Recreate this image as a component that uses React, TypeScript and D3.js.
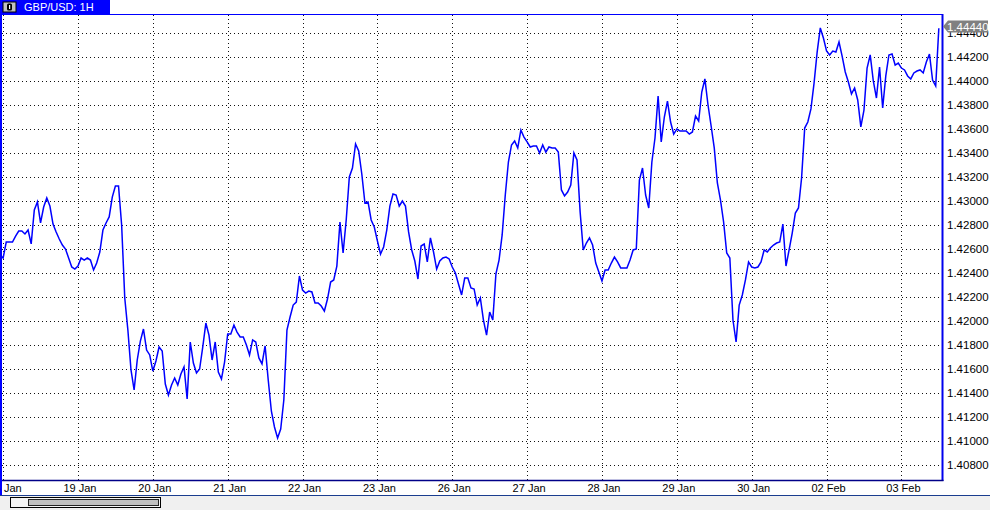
import React from "react";
import * as d3 from "d3";

// ---- data (hourly GBP/USD closes) ----
const dayLabels = ["16 Jan", "19 Jan", "20 Jan", "21 Jan", "22 Jan", "23 Jan", "26 Jan", "27 Jan", "28 Jan", "29 Jan", "30 Jan", "02 Feb", "03 Feb"];
const priorClose = [1.4255];
const jan16 = [1.42525, 1.42658, 1.42658, 1.42658, 1.42708, 1.4275, 1.4275, 1.42725, 1.42758, 1.42642, 1.42925, 1.42992, 1.42817, 1.4295, 1.43025, 1.42958, 1.42808, 1.42742, 1.42683, 1.42633, 1.426, 1.42525, 1.4245, 1.42433];
const jan19 = [1.42458, 1.42525, 1.42508, 1.42525, 1.42508, 1.42425, 1.42483, 1.42575, 1.42758, 1.42817, 1.42867, 1.43033, 1.43125, 1.43125, 1.428, 1.42192, 1.41925, 1.41592, 1.41425, 1.41675, 1.41833, 1.41933, 1.41758, 1.41717];
const jan20 = [1.41583, 1.41667, 1.41783, 1.4175, 1.41475, 1.41383, 1.41467, 1.41525, 1.41467, 1.41558, 1.41617, 1.4135, 1.41825, 1.4165, 1.41567, 1.416, 1.41783, 1.41983, 1.41883, 1.41675, 1.41825, 1.41575, 1.41517, 1.41658];
const jan21 = [1.41892, 1.41892, 1.41967, 1.41908, 1.41867, 1.41867, 1.418, 1.41717, 1.41842, 1.41825, 1.41692, 1.41642, 1.41792, 1.41508, 1.4125, 1.41117, 1.41025, 1.411, 1.41342, 1.41925, 1.42033, 1.42133, 1.42158, 1.42375];
const jan22 = [1.42258, 1.42233, 1.4225, 1.42242, 1.4215, 1.4215, 1.42125, 1.42083, 1.42183, 1.42325, 1.42342, 1.42458, 1.42825, 1.42567, 1.42842, 1.432, 1.43275, 1.43475, 1.43417, 1.43225, 1.42983, 1.42992, 1.42842, 1.42783];
const jan23 = [1.42667, 1.42558, 1.42617, 1.42758, 1.42958, 1.43058, 1.4305, 1.42958, 1.43, 1.42958, 1.42742, 1.42592, 1.425, 1.4235, 1.42625, 1.42642, 1.42492, 1.42692, 1.42575, 1.42433, 1.425, 1.42525, 1.42533, 1.42517];
const jan26 = [1.4245, 1.424, 1.42308, 1.42217, 1.42358, 1.42358, 1.42275, 1.42267, 1.42133, 1.42192, 1.42008, 1.41883, 1.42075, 1.42008, 1.42392, 1.42508, 1.42717, 1.4305, 1.43325, 1.43467, 1.435, 1.43442, 1.43592, 1.43533];
const jan27 = [1.43492, 1.4345, 1.43458, 1.43458, 1.434, 1.43467, 1.43408, 1.4345, 1.43442, 1.43442, 1.43408, 1.43092, 1.43042, 1.43075, 1.43133, 1.434, 1.43342, 1.42908, 1.42592, 1.4265, 1.42692, 1.42633, 1.42483, 1.42408];
const jan28 = [1.42333, 1.42425, 1.42425, 1.42483, 1.42533, 1.42492, 1.42442, 1.42442, 1.42442, 1.42508, 1.42592, 1.426, 1.43175, 1.43275, 1.4305, 1.42942, 1.43325, 1.43525, 1.43875, 1.43492, 1.437, 1.43833, 1.43658, 1.43558];
const jan29 = [1.436, 1.43583, 1.43583, 1.43583, 1.43558, 1.43575, 1.43708, 1.43667, 1.43908, 1.44017, 1.438, 1.43625, 1.43442, 1.4315, 1.43008, 1.42825, 1.42567, 1.42525, 1.42008, 1.41825, 1.42133, 1.42217, 1.42342, 1.42492];
const jan30 = [1.4245, 1.42442, 1.4245, 1.42492, 1.42592, 1.42575, 1.42608, 1.42633, 1.4265, 1.42658, 1.42808, 1.42458, 1.42592, 1.42733, 1.429, 1.42942, 1.43192, 1.43608, 1.43658, 1.43767, 1.43983, 1.44242, 1.44442, 1.44358];
const feb02 = [1.4425, 1.44217, 1.4425, 1.44242, 1.44325, 1.44208, 1.44075, 1.43992, 1.43892, 1.43942, 1.43842, 1.43617, 1.43758, 1.44108, 1.44217, 1.44, 1.43858, 1.44117, 1.43775, 1.44042, 1.44217, 1.44225, 1.44133, 1.4415];
const feb03 = [1.44108, 1.44092, 1.44042, 1.44017, 1.44067, 1.44083, 1.44092, 1.44067, 1.44158, 1.44225, 1.44008, 1.43958, 1.4444];
const priceTicks = [1.408, 1.41, 1.412, 1.414, 1.416, 1.418, 1.42, 1.422, 1.424, 1.426, 1.428, 1.43, 1.432, 1.434, 1.436, 1.438, 1.44, 1.442, 1.444];
const title = "GBP/USD: 1H";
const hoursPerDay = 24;

const series = [...priorClose, ...jan16, ...jan19, ...jan20, ...jan21, ...jan22, ...jan23, ...jan26, ...jan27, ...jan28, ...jan29, ...jan30, ...feb02, ...feb03];
const lastPrice = series[series.length - 1];

const W = 990, H = 510;
const plot = { left: 0, right: 942, top: 14, bottom: 480 };
const FONT = "'Liberation Sans', Arial, sans-serif";

export default function App() {
  const pxPerBar = 3.119;
  const x = d3.scaleLinear().domain([0, series.length - 1]).range([0, (series.length - 1) * pxPerBar]);
  const y = d3.scaleLinear().domain([1.408, 1.442]).range([465, 57]);
  const line = d3.line<number>().x((_, i) => x(i)).y((d) => y(d));
  const dayIdx = dayLabels.map((_, k) => 1 + k * hoursPerDay);
  const fmt = d3.format(".5f");
  const yc = y(lastPrice) - 1.7;

  return (
    <svg width={W} height={H} style={{ position: "fixed", left: 0, top: 0, background: "#fff" }} fontFamily={FONT}>
      <defs>
        <clipPath id="plotclip">
          <rect x={2} y={plot.top + 1} width={plot.right - 2} height={plot.bottom - plot.top - 1} />
        </clipPath>
      </defs>
      <rect x={0} y={0} width={W} height={H} fill="#fff" />

      {/* grid */}
      <g clipPath="url(#plotclip)">
        {priceTicks.map((t) => (
          <line key={"h" + t} x1={2} x2={plot.right} y1={Math.round(y(t)) + 0.5} y2={Math.round(y(t)) + 0.5} stroke="#111" strokeWidth={1} strokeDasharray="1 3" />
        ))}
        {dayIdx.map((d) => (
          <line key={"v" + d} x1={Math.round(x(d)) + 0.5} x2={Math.round(x(d)) + 0.5} y1={plot.top + 1} y2={plot.bottom} stroke="#111" strokeWidth={1} strokeDasharray="1 3" />
        ))}
        <path d={line(series) || ""} fill="none" stroke="#0000ff" strokeWidth={1.5} strokeLinejoin="miter" />
      </g>

      {/* frame */}
      <line x1={0} x2={plot.right + 1} y1={plot.top + 0.5} y2={plot.top + 0.5} stroke="#0000ff" strokeWidth={1} />
      <line x1={plot.right + 0.5} x2={plot.right + 0.5} y1={plot.top} y2={plot.bottom + 1} stroke="#0000ee" strokeWidth={2} />
      <line x1={0} x2={plot.right + 1.5} y1={plot.bottom + 0.5} y2={plot.bottom + 0.5} stroke="#000088" strokeWidth={1.5} />
      <rect x={0} y={0} width={2} height={496} fill="#0000ff" />

      {/* header */}
      <rect x={0} y={0} width={110} height={14} fill="#0000ff" />
      <rect x={3} y={2} width={13} height={10} fill="#c0c0c0" stroke="#000" strokeWidth={1} />
      <rect x={7} y={3.5} width={5} height={7} rx={1.5} fill="#000" />
      <rect x={9} y={5} width={1.2} height={4} fill="#fff" />
      <text x={24} y={11} fill="#fff" fontSize={11}>{title}</text>

      {/* price axis */}
      {priceTicks.map((t) => (
        <text key={"l" + t} x={947} y={y(t) + 4} fontSize={11.5} fill="#000">{fmt(t)}</text>
      ))}
      <path d={`M${943},${yc} L${948},${yc - 6} L${988},${yc - 6} L${988},${yc + 6} L${948},${yc + 6} Z`} fill="#808080" />
      <text x={947} y={yc + 4} fontSize={11.5} fill="#fff">{fmt(lastPrice)}</text>

      {/* date axis */}
      {dayIdx.map((d, k) => (
        <text key={"d" + d} x={x(d) + 2} y={492} fontSize={11} textAnchor="middle" fill="#000">{dayLabels[k]}</text>
      ))}

      {/* scroll bar */}
      <rect x={0} y={496} width={W} height={14} fill="#f0f0f0" />
      <line x1={0} x2={W} y1={495.5} y2={495.5} stroke="#1a3d8f" strokeWidth={1} />
      <rect x={10.5} y={497.5} width={150} height={10} fill="#f4f4f4" stroke="#000" strokeWidth={1} />
      <rect x={28.5} y={499.5} width={130} height={6} fill="#c0c0c0" stroke="#222" strokeWidth={1} />
    </svg>
  );
}
